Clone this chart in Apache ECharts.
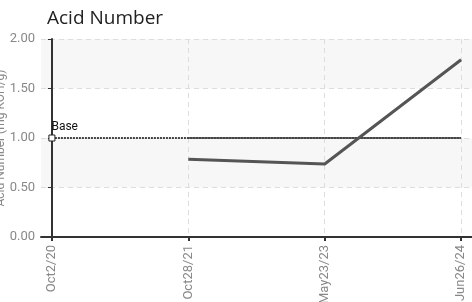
<!DOCTYPE html>
<html>
<head>
<meta charset="utf-8">
<script src="https://cdn.jsdelivr.net/npm/echarts@6/dist/echarts.min.js"></script>
<style>
  html, body { margin: 0; padding: 0; background: #fff; }
  #chart { width: 472px; height: 302px; }
</style>
</head>
<body>
<div id="chart"></div>
<script>
const categories = ["Oct2/20", "Oct28/21", "May23/23", "Jun26/24"];
const acidValues = [null, 0.785, 0.737, 1.79];
const baseValues = [1, 1, 1, 1];
const limitValues = [null, 1, 1, 1];
const yTicks = [0, 0.5, 1, 1.5, 2];

const toPoints = (arr) =>
  arr.map((v, i) => (v == null ? null : [i, v])).filter((p) => p);

const chart = echarts.init(document.getElementById("chart"));

const basePoints = toPoints(baseValues).map((p, i) =>
  i === 0
    ? {
        value: p,
        symbol: "rect",
        symbolSize: 6,
        itemStyle: { color: "#fff", borderColor: "#222", borderWidth: 1 },
        label: {
          show: true,
          formatter: "Base",
          position: [3, -14],
          color: "#111",
          fontSize: 12,
          fontFamily: "Roboto",
        },
      }
    : { value: p, symbol: "none" }
);

chart.setOption({
  animation: false,
  title: {
    text: "Acid Number",
    left: 42,
    top: 4,
    textStyle: {
      fontSize: 19,
      fontWeight: "normal",
      color: "#222",
      fontFamily: "Open Sans",
    },
  },
  grid: {
    left: 41,
    right: 0,
    top: 39,
    bottom: 65,
    containLabel: false,
    outerBoundsMode: "none",
  },
  xAxis: {
    type: "value",
    min: -0.08,
    max: 3.08,
    splitNumber: 3,
    axisLine: { lineStyle: { color: "#333", width: 2 } },
    axisTick: {
      customValues: [0, 1, 2, 3],
      length: 4,
      lineStyle: { color: "#333", width: 2 },
    },
    axisLabel: {
      customValues: [0, 1, 2, 3],
      rotate: 90,
      margin: 8,
      color: "#888",
      fontSize: 13,
      fontFamily: "Roboto",
      formatter: (v) => categories[Math.round(v)],
    },
    splitLine: {
      show: true,
      lineStyle: { color: "#ddd", type: [5, 4], width: 1 },
    },
  },
  yAxis: {
    type: "value",
    min: yTicks[0],
    max: yTicks[yTicks.length - 1],
    interval: 0.5,
    name: "Acid Number (mg KOH/g)",
    nameLocation: "middle",
    nameRotate: 90,
    nameGap: 34,
    nameMoveOverlap: false,
    nameTextStyle: { color: "#888", fontSize: 12, fontFamily: "Roboto" },
    axisLine: { show: true, lineStyle: { color: "#333", width: 2 } },
    axisTick: { show: true, length: 4, lineStyle: { color: "#333" } },
    axisLabel: {
      color: "#888",
      fontSize: 13,
      fontFamily: "Roboto",
      margin: 6,
      formatter: (v) => v.toFixed(2),
    },
    splitLine: {
      show: true,
      lineStyle: { color: "#ddd", type: [5, 4], width: 1 },
    },
    splitArea: {
      show: true,
      areaStyle: { color: ["#ffffff", "#f7f7f7"] },
    },
  },
  series: [
    {
      name: "Base",
      type: "line",
      data: basePoints,
      showSymbol: true,
      lineStyle: { color: "#444", width: 2, type: [2, 1] },
      z: 3,
    },
    {
      name: "Limit",
      type: "line",
      data: toPoints(limitValues),
      symbol: "none",
      lineStyle: { color: "#666", width: 2 },
      z: 2,
    },
    {
      name: "Acid Number",
      type: "line",
      data: toPoints(acidValues),
      symbol: "none",
      lineStyle: { color: "#555", width: 3 },
      z: 4,
    },
  ],
});
</script>
</body>
</html>
